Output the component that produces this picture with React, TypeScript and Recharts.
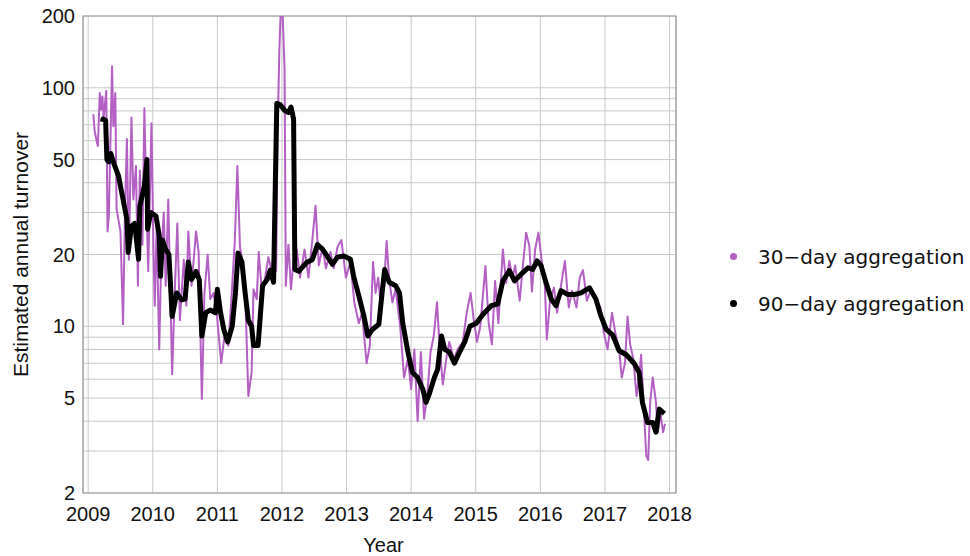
import {
  LineChart,
  Line,
  XAxis,
  YAxis,
  CartesianGrid,
  ReferenceArea,
  Legend,
} from "recharts";

// 30-day aggregation
const years30 = [
  2009.08, 2009.1, 2009.13, 2009.15, 2009.18, 2009.2, 2009.22, 2009.24, 2009.28, 2009.3,
  2009.32, 2009.37, 2009.39, 2009.42, 2009.44, 2009.5, 2009.54, 2009.57, 2009.6, 2009.63,
  2009.67, 2009.7, 2009.74, 2009.77, 2009.8, 2009.84, 2009.87, 2009.9, 2009.93, 2009.98,
  2010.01, 2010.03, 2010.06, 2010.1, 2010.13, 2010.17, 2010.2, 2010.24, 2010.3, 2010.34,
  2010.38, 2010.42, 2010.48, 2010.52, 2010.55, 2010.6, 2010.67, 2010.71, 2010.76, 2010.8,
  2010.85, 2010.89, 2010.94, 2010.99, 2011.06, 2011.11, 2011.17, 2011.22, 2011.27, 2011.31,
  2011.35, 2011.4, 2011.44, 2011.48, 2011.53, 2011.56, 2011.61, 2011.64, 2011.69, 2011.74,
  2011.79, 2011.84, 2011.89, 2011.91, 2011.93, 2011.96, 2011.98, 2012.01, 2012.04, 2012.06,
  2012.1, 2012.14, 2012.18, 2012.23, 2012.28, 2012.35, 2012.41, 2012.47, 2012.52, 2012.57,
  2012.63, 2012.68, 2012.75, 2012.8, 2012.86, 2012.92, 2012.99, 2013.06, 2013.12, 2013.19,
  2013.24, 2013.31, 2013.36, 2013.41, 2013.45, 2013.49, 2013.53, 2013.58, 2013.62, 2013.66,
  2013.71, 2013.76, 2013.83, 2013.89, 2013.95, 2014.0, 2014.05, 2014.1, 2014.15, 2014.2,
  2014.25, 2014.3, 2014.35, 2014.4, 2014.44, 2014.49, 2014.55, 2014.59, 2014.66, 2014.72,
  2014.8, 2014.86, 2014.92, 2014.97, 2015.02, 2015.07, 2015.15, 2015.2, 2015.25, 2015.3,
  2015.35, 2015.42, 2015.47, 2015.52, 2015.57, 2015.61, 2015.68, 2015.73, 2015.78, 2015.83,
  2015.87, 2015.92, 2015.97, 2016.02, 2016.07, 2016.1, 2016.15, 2016.21, 2016.26, 2016.32,
  2016.38, 2016.44, 2016.49, 2016.56, 2016.61, 2016.66, 2016.72, 2016.78, 2016.86, 2016.93,
  2016.98, 2017.04, 2017.11, 2017.16, 2017.22, 2017.26, 2017.31, 2017.35, 2017.39, 2017.44,
  2017.49, 2017.54, 2017.56, 2017.6, 2017.64, 2017.67, 2017.7, 2017.74, 2017.79, 2017.82,
  2017.86, 2017.9, 2017.93,
];
const turnover30 = [
  77.5, 66, 60, 57, 95, 81, 92, 75, 97, 25,
  29, 123, 69, 95, 31, 25, 10.2, 30, 61, 19,
  75, 34, 47, 14.8, 45, 22, 82, 34, 17, 71,
  21.5, 12.2, 26, 8, 19, 30, 14.8, 34, 6.3, 13.8,
  27, 10.6, 19, 12.2, 25, 14.8, 25, 20.5, 4.95, 13.8,
  20, 13, 13.8, 11.4, 7, 9.1, 8.3, 13.4, 22.8, 47,
  21.5, 18, 11.4, 5.1, 6.4, 14.3, 13, 20.5, 13.8, 16,
  19.5, 17, 23, 17, 60, 145, 205, 205, 120, 14.8,
  22, 14.3, 19, 21, 16, 21, 16, 23, 32, 18,
  21.5, 17.5, 20.5, 17.5, 21.5, 23, 16, 18.6, 12.6, 10.3,
  11.4, 7, 8.3, 18.6, 13.8, 16, 12.2, 14.8, 22.8, 15.7,
  12.6, 14.3, 10, 6.1, 7.3, 5.45, 8, 4, 7.8, 4.1,
  5.2, 7.8, 9.1, 12.6, 8.3, 5.7, 7.5, 8.6, 7.3, 8,
  8.6, 11.4, 13.8, 10.6, 8.6, 10, 17.9, 10.3, 8.4, 15.5,
  10.3, 21, 15.2, 18.8, 16, 18, 12.8, 18, 24.7, 21.7,
  14, 21, 24.7, 19, 14.8, 8.8, 12.8, 14.5, 11.4, 14.8,
  18.8, 12, 14.1, 12, 16, 17.2, 12.8, 14.1, 13, 12,
  9.5, 8, 11.4, 9.4, 8, 6.1, 7, 11, 8.4, 7.3,
  5.1, 6.6, 7.6, 4.6, 2.86, 2.75, 4.8, 6.1, 4.8, 3.6,
  4.3, 3.6, 3.9,
];

// 90-day aggregation
const years90 = [
  2009.22, 2009.23, 2009.27, 2009.29, 2009.32, 2009.35, 2009.4, 2009.47, 2009.55, 2009.6,
  2009.62, 2009.67, 2009.72, 2009.78, 2009.8, 2009.87, 2009.91, 2009.92, 2009.97, 2010.05,
  2010.1, 2010.12, 2010.15, 2010.2, 2010.25, 2010.3, 2010.37, 2010.45, 2010.5, 2010.55,
  2010.6, 2010.67, 2010.72, 2010.76, 2010.82, 2010.89, 2010.97, 2011.0, 2011.05, 2011.1,
  2011.16, 2011.23, 2011.28, 2011.32, 2011.38, 2011.43, 2011.48, 2011.53, 2011.56, 2011.63,
  2011.7, 2011.77, 2011.82, 2011.87, 2011.92, 2011.97, 2012.05, 2012.1, 2012.14, 2012.18,
  2012.2, 2012.26, 2012.38, 2012.47, 2012.55, 2012.63, 2012.7, 2012.78, 2012.86, 2012.96,
  2013.06, 2013.11, 2013.19, 2013.27, 2013.33, 2013.4, 2013.5, 2013.55, 2013.59, 2013.66,
  2013.76, 2013.82, 2013.87, 2013.95, 2014.02, 2014.1, 2014.18, 2014.23, 2014.28, 2014.36,
  2014.41, 2014.47, 2014.52, 2014.59, 2014.67, 2014.75, 2014.83, 2014.91, 2015.01, 2015.11,
  2015.24, 2015.34, 2015.42, 2015.52, 2015.6, 2015.7, 2015.81, 2015.88, 2015.95, 2016.01,
  2016.09, 2016.17, 2016.24, 2016.32, 2016.42, 2016.53, 2016.63, 2016.76, 2016.86, 2016.94,
  2017.02, 2017.12, 2017.22, 2017.33, 2017.45, 2017.53, 2017.58, 2017.66, 2017.74, 2017.79,
  2017.84, 2017.92,
];
const turnover90 = [
  72, 74, 73, 50, 49, 53, 48, 42.7, 33, 28,
  20.4, 26.3, 27, 19.1, 31.9, 38.7, 50, 25.5, 30, 29,
  24, 16.2, 23, 21, 20, 11, 13.8, 12.9, 13, 18.6,
  15.7, 17, 15.7, 9.1, 11.4, 11.7, 11.4, 14.3, 11.4, 9.7,
  8.6, 10, 13.8, 20.3, 18.6, 13.8, 10.6, 10, 8.3, 8.3,
  14.8, 15.7, 17.2, 15.3, 86, 85, 80, 78.7, 83, 74,
  17.3, 17, 18.5, 19, 22, 21, 19.7, 18.2, 19.5, 19.7,
  19.1, 16.2, 13.4, 11, 9.1, 9.7, 10.2, 13.8, 17.3, 15.3,
  14.8, 13.8, 10.3, 7.8, 6.4, 6.1, 5.45, 4.8, 5.2, 6.1,
  6.6, 9.1, 8, 7.8, 7, 7.8, 8.6, 10, 10.3, 11.2,
  12.2, 12.4, 15.5, 17.1, 15.5, 16.5, 17.6, 17.3, 18.8, 18,
  15.2, 13, 12.2, 14.1, 13.6, 13.6, 13.8, 14.5, 13, 11,
  9.7, 9.2, 7.9, 7.6, 7, 6.4, 4.8, 3.95, 3.95, 3.6,
  4.5, 4.3,
];

const yearTicks = [2009, 2010, 2011, 2012, 2013, 2014, 2015, 2016, 2017, 2018];
const gridValues = [2, 3, 4, 5, 6, 7, 8, 9, 10, 20, 30, 40, 50, 60, 70, 80, 90, 100, 200];
const labeledValues = [2, 5, 10, 20, 50, 100, 200];

const data30 = years30.map((year, i) => ({ year, value: turnover30[i] }));
const data90 = years90.map((year, i) => ({ year, value: turnover90[i] }));

const X_DOMAIN: [number, number] = [2008.92, 2018.1];
const Y_DOMAIN: [number, number] = [2, 200];
const AXIS_FONT = "'Liberation Sans', Arial, sans-serif";

function renderLegend(props: any) {
  const items = props.payload || [];
  return (
    <div style={{ fontFamily: "'DejaVu Sans', sans-serif", fontSize: 20, color: "#111" }}>
      {items.map((entry: any) => (
        <div key={entry.value} style={{ display: "flex", alignItems: "center", height: 47 }}>
          <span
            style={{
              display: "inline-block",
              width: 7,
              height: 7,
              borderRadius: "50%",
              background: entry.color,
              marginLeft: 8,
              marginRight: 21,
            }}
          />
          <span style={{ whiteSpace: "nowrap" }}>{entry.value}</span>
        </div>
      ))}
    </div>
  );
}

export default function App() {
  return (
    <div style={{ position: "absolute", left: 0, top: 0, width: 970, height: 556, background: "#fff" }}>
      <LineChart width={970} height={556} margin={{ top: 16, right: 294, bottom: 0, left: 0 }}>
        <CartesianGrid stroke="#c8c8c8" strokeWidth={1} />
        <ReferenceArea
          x1={X_DOMAIN[0]}
          x2={X_DOMAIN[1]}
          y1={Y_DOMAIN[0]}
          y2={Y_DOMAIN[1]}
          fill="none"
          fillOpacity={0}
          stroke="#9a9a9a"
          strokeWidth={1.2}
          ifOverflow="visible"
        />
        <XAxis
          type="number"
          dataKey="year"
          domain={X_DOMAIN}
          allowDataOverflow
          ticks={yearTicks}
          interval={0}
          tickSize={0}
          tickMargin={14}
          axisLine={false}
          tick={{ fontSize: 20, fill: "#111", fontFamily: AXIS_FONT }}
          height={63}
          label={{
            value: "Year",
            position: "insideBottom",
            offset: 4,
            dx: 4,
            style: { fontSize: 20, fill: "#111", fontFamily: AXIS_FONT },
          }}
        />
        <YAxis
          type="number"
          dataKey="value"
          scale="log"
          domain={Y_DOMAIN}
          allowDataOverflow
          ticks={gridValues}
          interval={0}
          tickFormatter={(v: number) => (labeledValues.includes(v) ? String(v) : "")}
          tickSize={0}
          tickMargin={8}
          axisLine={false}
          width={83}
          tick={{ fontSize: 20, fill: "#111", fontFamily: AXIS_FONT }}
          label={{
            content: (p: any) => {
              const vb = p.viewBox || {};
              const cy = vb.y + vb.height / 2;
              return (
                <text
                  x={20}
                  y={cy}
                  transform={`rotate(-90, 20, ${cy})`}
                  textAnchor="middle"
                  dominantBaseline="central"
                  style={{ fontSize: 21, fill: "#111", fontFamily: AXIS_FONT }}
                >
                  Estimated annual turnover
                </text>
              );
            },
          }}
        />
        <Legend
          layout="horizontal"
          verticalAlign="middle"
          align="center"
          wrapperStyle={{ left: 722, top: 233, width: 248 }}
          content={renderLegend}
        />
        <Line
          data={data30}
          dataKey="value"
          name="30−day aggregation"
          type="linear"
          stroke="#b35fc3"
          strokeWidth={2}
          strokeLinejoin="round"
          dot={false}
          isAnimationActive={false}
        />
        <Line
          data={data90}
          dataKey="value"
          name="90−day aggregation"
          type="linear"
          stroke="#000"
          strokeWidth={5}
          strokeLinejoin="round"
          dot={false}
          isAnimationActive={false}
        />
      </LineChart>
    </div>
  );
}
